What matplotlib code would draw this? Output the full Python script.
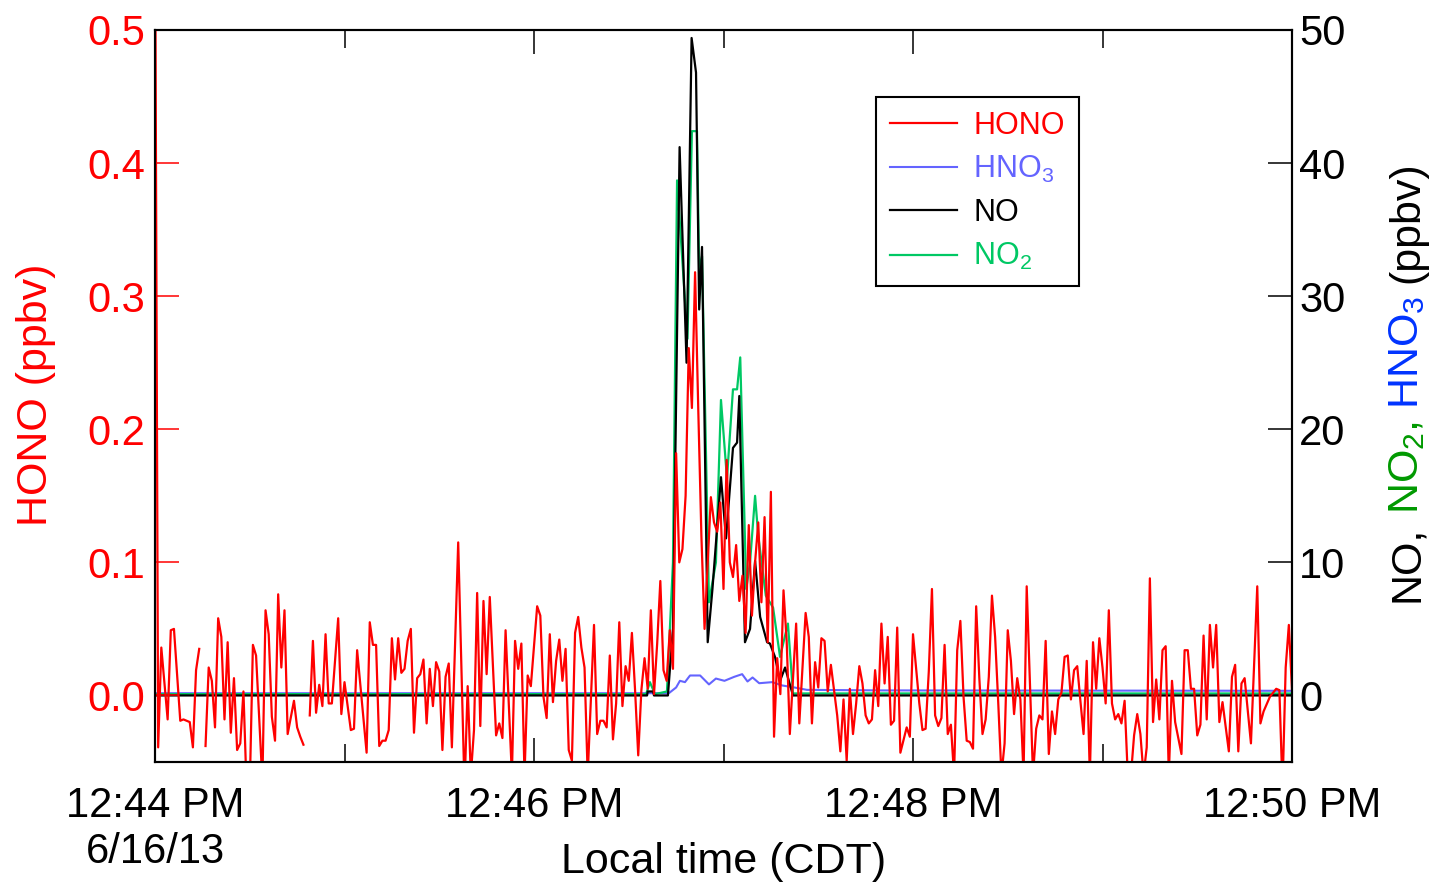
import numpy as np
import matplotlib
matplotlib.use("Agg")
import matplotlib.pyplot as plt

plt.rcParams['font.family'] = ['Liberation Sans', 'DejaVu Sans']
plt.rcParams['mathtext.fontset'] = 'custom'
plt.rcParams['mathtext.rm'] = 'Liberation Sans'
plt.rcParams['mathtext.it'] = 'Liberation Sans'
plt.rcParams['mathtext.default'] = 'regular'

# ---- data: seconds after 12:44:00 PM CDT, 6/16/13 ----
nan = np.nan
hono_t = [0, 1, 2, 4, 5, 6, 8, 9, 11, 12, 13, 14, 15, 16, 17, 18, 19, 20, 21, 22,
          23, 24, 25, 26, 27, 28, 29, 30, 31, 32, 34, 35, 36, 37, 38, 39, 40, 41, 42, 44,
          45, 46, 47, 48, 49, 50, 51, 52, 53, 54, 55, 56, 58, 59, 60, 62, 63, 64, 67, 68,
          69, 70, 71, 72, 73, 74, 75, 76, 77, 78, 79, 80, 81, 82, 83, 84, 85, 86, 87, 88,
          89, 90, 91, 92, 93, 94, 96, 98, 99, 100, 101, 102, 103, 104, 105, 106, 108, 109, 110, 111,
          113, 114, 115, 116, 117, 118, 119, 121, 122, 123, 124, 125, 126, 127, 128, 129, 130, 131, 132, 133,
          134, 135, 136, 137, 139, 140, 141, 142, 143, 144, 145, 146, 147, 148, 149, 150, 151, 152, 153, 154,
          155, 156, 157, 158, 159, 160, 161, 162, 163, 164, 165, 166, 167, 168, 169, 170, 171, 172, 173, 174,
          175, 176, 177, 178, 179, 180, 181, 182, 183, 184, 185, 186, 187, 188, 189, 190, 191, 192, 193, 194,
          195, 196, 197, 198, 199, 200, 201, 203, 204, 206, 207, 208, 209, 210, 211, 212, 213, 214, 216, 217,
          218, 219, 220, 221, 222, 223, 224, 225, 226, 227, 228, 229, 230, 231, 232, 233, 234, 235, 236, 238,
          239, 240, 242, 243, 244, 245, 246, 247, 248, 249, 250, 251, 252, 253, 254, 255, 256, 257, 258, 259,
          260, 261, 262, 263, 264, 265, 266, 267, 268, 269, 270, 271, 272, 273, 274, 275, 276, 278, 279, 280,
          281, 282, 283, 284, 285, 286, 287, 288, 289, 290, 291, 292, 293, 294, 295, 296, 297, 298, 299, 300,
          301, 302, 303, 304, 305, 306, 307, 308, 309, 310, 311, 312, 313, 314, 315, 316, 317, 318, 319, 320,
          321, 322, 323, 325, 326, 327, 328, 329, 330, 331, 332, 333, 334, 335, 336, 337, 338, 340, 341, 342,
          343, 344, 345, 347, 349, 350, 351, 353, 355, 356, 357, 358, 359, 360]
hono_v = [0.60, -0.039, 0.036, -0.018, 0.049, 0.050, -0.019, -0.018, -0.020, -0.039, 0.019, 0.035, nan, -0.038, 0.021, 0.011, -0.024, 0.058, 0.044, -0.018,
          0.040, -0.028, 0.013, -0.041, -0.036, 0.003, -0.070, -0.070, 0.038, 0.030, -0.065, 0.064, 0.046, -0.016, -0.034, 0.076, 0.021, 0.064, -0.029, -0.004,
          -0.024, -0.031, -0.037, nan, -0.015, 0.041, -0.013, 0.008, -0.008, 0.046, -0.006, -0.006, 0.058, -0.014, 0.010, -0.026, -0.025, 0.034, -0.043, 0.055,
          0.038, 0.038, -0.038, -0.034, -0.034, -0.026, 0.043, 0.012, 0.043, 0.017, 0.020, 0.041, 0.050, -0.028, 0.013, 0.016, 0.027, -0.021, 0.020, -0.008,
          0.025, 0.018, -0.041, 0.014, 0.024, -0.039, 0.115, -0.070, 0.007, -0.060, -0.026, 0.077, -0.023, 0.071, 0.016, 0.074, -0.030, -0.021, -0.032, 0.049,
          -0.060, 0.041, 0.020, 0.039, -0.060, 0.015, 0.007, 0.067, 0.060, -0.001, -0.017, 0.046, -0.005, 0.026, 0.042, 0.011, 0.035, -0.041, -0.049, 0.047,
          0.059, 0.036, 0.021, -0.060, 0.053, -0.029, -0.019, -0.019, -0.024, 0.030, -0.033, -0.006, 0.055, -0.008, 0.022, 0.011, 0.047, 0.004, -0.045, 0.004,
          0.028, 0.005, 0.064, 0.001, 0.039, 0.086, 0.019, 0.011, 0.049, 0.020, 0.182, 0.100, 0.110, 0.150, 0.261, 0.216, 0.318, 0.216, 0.120, 0.050,
          0.100, 0.149, 0.130, 0.123, 0.145, 0.080, 0.177, 0.100, 0.089, 0.113, 0.071, 0.090, 0.047, 0.128, 0.060, 0.100, 0.130, 0.070, 0.134, 0.040,
          0.153, -0.031, 0.028, 0.001, 0.079, 0.041, -0.029, 0.054, -0.021, 0.062, 0.044, -0.021, 0.025, 0.006, 0.043, 0.041, 0.003, 0.023, -0.015, -0.042,
          -0.003, -0.049, 0.005, -0.029, -0.006, 0.022, 0.009, -0.015, -0.021, -0.018, 0.019, -0.008, 0.054, 0.009, 0.044, -0.022, -0.019, 0.051, -0.043, -0.024,
          -0.031, 0.046, -0.006, -0.026, -0.025, 0.018, 0.080, -0.015, -0.023, -0.017, 0.038, -0.029, -0.022, -0.060, 0.034, 0.056, -0.001, -0.034, -0.035, -0.040,
          0.067, 0.013, -0.029, -0.018, 0.014, 0.075, 0.044, -0.006, -0.060, -0.036, 0.049, 0.026, -0.014, 0.013, -0.003, -0.060, 0.082, -0.060, -0.025, -0.015,
          -0.018, 0.041, -0.044, -0.012, -0.029, -0.003, 0.002, 0.029, 0.030, -0.003, 0.019, 0.022, -0.004, -0.029, 0.026, -0.060, 0.040, 0.005, 0.043, 0.021,
          -0.006, 0.064, -0.006, -0.018, -0.014, -0.021, -0.004, -0.060, -0.060, -0.030, -0.014, -0.029, -0.060, -0.039, 0.088, -0.020, 0.012, -0.018, 0.034, 0.037,
          -0.060, 0.011, -0.020, -0.044, 0.034, 0.034, 0.005, 0.005, -0.030, -0.022, 0.045, -0.018, 0.053, 0.021, 0.053, -0.020, -0.005, -0.042, 0.014, 0.023,
          -0.042, 0.009, 0.013, -0.036, 0.082, -0.021, -0.012, -0.001, 0.005, 0.004, -0.070, 0.021, 0.053, 0.004]

no_t = [0, 155.8, 156, 157.7, 158, 162.4, 164, 166.1, 168.3, 169.9, 171.3, 172.3, 173.2, 175, 176.5,
        179.2, 180.8, 183, 184.3, 185, 186.8, 188.4, 190, 191.6, 193.8, 194.7, 196.3, 197.9, 199.5, 202, 360]
no_v = [0.0, 0.0, 0.3, 0.3, 0.0, 0.0, 5.0, 41.2, 25.0, 49.4, 46.8, 29.0, 33.7, 4.0, 8.0,
        16.4, 11.8, 18.6, 19.0, 22.5, 4.0, 5.0, 10.1, 5.9, 4.0, 3.9, 2.9, 1.1, 2.1, 0.0, 0.0]

no2_t = [0, 155.5, 156.7, 158.3, 162.1, 164, 165.3, 168.6, 170, 171.6, 172.3, 173.2, 175.4, 177.6, 179.2,
         181.1, 183, 184.3, 185.3, 187.2, 188.4, 190, 191, 193.4, 195.7, 197.9, 200.4, 202, 360]
no2_v = [0.1, 0.1, 1.0, 0.1, 0.3, 10.0, 38.7, 26.8, 42.4, 42.4, 32.0, 33.0, 7.0, 10.0, 22.2,
         16.3, 23.0, 23.0, 25.4, 8.0, 10.0, 15.0, 12.0, 7.5, 6.6, 2.9, 5.4, 0.15, 0.15]

hno3_t = [0, 162.7, 165, 166.2, 167.8, 169.4, 172.6, 175.4, 177.6, 180.3, 183.4, 185.9, 187.6, 189.2,
          191.3, 195.4, 198.6, 202, 206.4, 230, 360]
hno3_v = [0.17, 0.17, 0.6, 1.1, 1.0, 1.5, 1.5, 0.83, 1.27, 1.1, 1.4, 1.6, 1.05, 1.35,
          0.92, 1.0, 0.75, 0.62, 0.42, 0.38, 0.35]

tick_seconds = [0, 120, 240, 360]
tick_labels = ["12:44 PM\n6/16/13", "12:46 PM", "12:48 PM", "12:50 PM"]
minor_seconds = [60, 180, 300]
hono_ticks = [0.0, 0.1, 0.2, 0.3, 0.4, 0.5]
hono_tick_labels = ['0.0', '0.1', '0.2', '0.3', '0.4', '0.5']
nox_ticks = [0, 10, 20, 30, 40, 50]

RED = '#ff0000'
BLUE_LINE = '#6464ff'
GREEN_LINE = '#00c864'
GREEN_TXT = '#009900'
BLUE_TXT = '#0033ff'

TICK_FS = 30
LABEL_FS = 31

W, H = 1437, 882
fig = plt.figure(figsize=(W / 100, H / 100), dpi=100)
ax = fig.add_axes([155 / W, 1 - 762 / H, (1292 - 155) / W, (762 - 30) / H])
ax2 = ax.twinx()

# right-axis species
l_hno3, = ax2.plot(hno3_t, hno3_v, color=BLUE_LINE, lw=1.5)
l_no2, = ax2.plot(no2_t, no2_v, color=GREEN_LINE, lw=1.6)
l_no, = ax2.plot(no_t, no_v, color='black', lw=1.6)
# HONO on the left axis, drawn on top
l_hono, = ax.plot(hono_t, hono_v, color=RED, lw=1.6)
ax.set_zorder(ax2.get_zorder() + 1)
ax.patch.set_visible(False)

ax.set_xlim(0, 360)
ax.set_ylim(-0.05, 0.5)
ax2.set_ylim(-5, 50)

ax.set_xticks(tick_seconds)
ax.set_xticklabels(tick_labels)
ax.set_xticks(minor_seconds, minor=True)
ax.set_yticks(hono_ticks)
ax.set_yticklabels(hono_tick_labels)
ax2.set_yticks(nox_ticks)

ax.tick_params(axis='x', which='major', direction='in', length=17, width=1.1,
               top=True, bottom=True, labelsize=TICK_FS, pad=17, colors='black')
ax.tick_params(axis='x', which='minor', direction='in', length=13, width=1.1,
               top=True, bottom=True)
ax.tick_params(axis='y', which='major', direction='in', length=17, width=1.1,
               colors=RED, labelsize=TICK_FS, pad=7, left=True, right=False)
ax2.tick_params(axis='y', which='major', direction='in', length=17, width=1.1,
                colors='black', labelsize=TICK_FS, pad=5)

for a in (ax, ax2):
    for s in a.spines.values():
        s.set_linewidth(1.5)
        s.set_color('black')

ax.set_ylabel('HONO (ppbv)', color=RED, fontsize=LABEL_FS)
ax.yaxis.set_label_coords(-0.087, 0.501)
ax.set_xlabel('Local time (CDT)', fontsize=LABEL_FS)
ax.xaxis.set_label_coords(0.5, -0.109)

leg = ax.legend([l_hono, l_hno3, l_no, l_no2],
                ['HONO', 'HNO$_{3}$', 'NO', 'NO$_{2}$'],
                loc='upper left', bbox_to_anchor=(0.634, 0.9085), borderaxespad=0,
                fontsize=22, handlelength=2.19, handletextpad=0.55,
                labelspacing=0.43, borderpad=0.45, fancybox=False,
                framealpha=1, edgecolor='black')
leg.get_frame().set_linewidth(1.5)
for txt, c in zip(leg.get_texts(), [RED, BLUE_LINE, 'black', GREEN_LINE]):
    txt.set_color(c)

# multi-coloured right-axis label, built piece by piece along a vertical baseline
fig.canvas.draw()
renderer = fig.canvas.get_renderer()
pieces = [("NO,", 'black'), ("NO$_{2}$,", GREEN_TXT), ("HNO$_{3}$", BLUE_TXT), ("(ppbv)", 'black')]

def text_len(s):
    t = fig.text(0, 0, s, fontsize=LABEL_FS)
    w = t.get_window_extent(renderer).width
    t.remove()
    return w

space = text_len("N N") - text_len("NN")
lens = [text_len(s) for s, _ in pieces]
total = sum(lens) + space * (len(pieces) - 1)
base_x = 1418
center_y = H - 382
y = center_y - total / 2
for (s, c), L in zip(pieces, lens):
    fig.text(base_x / W, y / H, s, fontsize=LABEL_FS, color=c, rotation=90,
             rotation_mode='anchor', ha='left', va='baseline')
    y += L + space

fig.savefig('out.png', dpi=100)
